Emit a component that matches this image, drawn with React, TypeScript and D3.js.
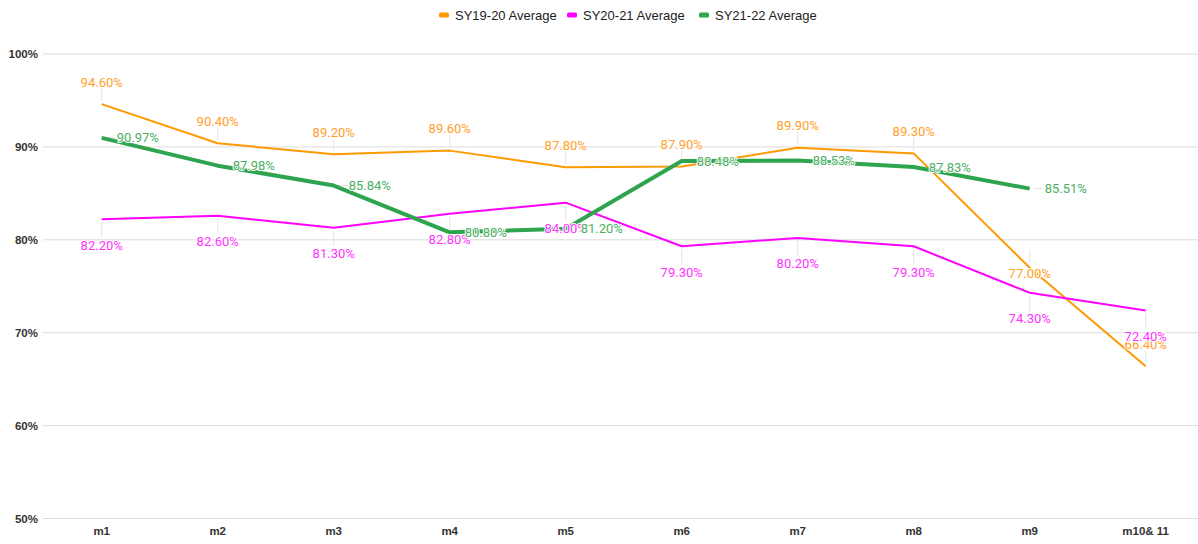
import React from "react";
import * as d3 from "d3";

const months = ["m1", "m2", "m3", "m4", "m5", "m6", "m7", "m8", "m9", "m10& 11"];
const sy1920 = [94.6, 90.4, 89.2, 89.6, 87.8, 87.9, 89.9, 89.3, 77.0, 66.4];
const sy2021 = [82.2, 82.6, 81.3, 82.8, 84.0, 79.3, 80.2, 79.3, 74.3, 72.4];
const sy2122 = [90.97, 87.98, 85.84, 80.8, 81.2, 88.48, 88.53, 87.83, 85.51];
const yTicks = [50, 60, 70, 80, 90, 100];

const W = 1198;
const H = 544;

const series = [
  { name: "SY19-20 Average", values: sy1920, color: "#ff9900", label: "#ffa02a", width: 2, pos: "above" },
  { name: "SY20-21 Average", values: sy2021, color: "#ff00ff", label: "#ff33ff", width: 2, pos: "below" },
  { name: "SY21-22 Average", values: sy2122, color: "#2ea44f", label: "#4caf62", width: 4, pos: "right" },
];

export default function App() {
  const x = d3.scaleBand<string>().domain(months).range([43.7, 1203.7]);
  const cx = (m: string) => (x(m) ?? 0) + x.bandwidth() / 2;
  const y = d3.scaleLinear().domain([50, 100]).range([518.5, 54]);

  const line = d3
    .line<number>()
    .x((_, i) => cx(months[i]))
    .y((d) => y(d));

  const fmt = (v: number) => v.toFixed(2) + "%";

  // where each label sits relative to its point
  const labelPos = (s: typeof series[number], i: number, v: number) => {
    const px = cx(months[i]);
    const py = y(v);
    if (s.pos === "right") return { lx: px + 15, ly: py, anchor: "start", lead: [px + 4, py, px + 14, py] };
    if (s.pos === "above") {
      if (i === 8) return { lx: px, ly: py + 6, anchor: "middle", lead: [px, py - 6, px, py - 18] };
      return { lx: px, ly: py - 22, anchor: "middle", lead: [px, py - 3, px, py - 16] };
    }
    return { lx: px, ly: py + 26, anchor: "middle", lead: [px, py + 3, px, py + 18] };
  };

  const legendX = [440, 568, 700];

  return (
    <div style={{ position: "absolute", left: 0, top: 0 }}>
      <svg width={W} height={H} style={{ display: "block", background: "#fff" }}>
        {/* legend */}
        {series.map((s, i) => (
          <g key={s.name} transform={`translate(${legendX[i]},15)`}>
            <rect x={-1} y={-2.5} width={10} height={5} rx={1.5} fill={s.color} />
            <text x={15} y={0} dy="0.35em" fontFamily="Arial, 'Liberation Sans'" fontSize={13} fill="#222">
              {s.name}
            </text>
          </g>
        ))}

        {/* grid + y labels */}
        {yTicks.map((t) => (
          <g key={t}>
            <line x1={43} x2={W} y1={y(t)} y2={y(t)} stroke="#dcdcdc" strokeWidth={1} />
            <text
              x={38}
              y={y(t)}
              dy="0.35em"
              textAnchor="end"
              fontFamily="Arial, 'Liberation Sans'"
              fontSize={11.5}
              fontWeight="bold"
              fill="#333"
            >
              {t}%
            </text>
          </g>
        ))}

        {/* x labels */}
        {months.map((m) => (
          <text
            key={m}
            x={cx(m)}
            y={531}
            dy="0.35em"
            textAnchor="middle"
            fontFamily="Arial, 'Liberation Sans'"
            fontSize={11.5}
            fontWeight="bold"
            fill="#333"
          >
            {m}
          </text>
        ))}

        {/* leader lines */}
        {series.map((s) =>
          s.values.map((v, i) => {
            const p = labelPos(s, i, v);
            return (
              <line
                key={s.name + "l" + i}
                x1={p.lead[0]}
                y1={p.lead[1]}
                x2={p.lead[2]}
                y2={p.lead[3]}
                stroke="#e4e4e4"
                strokeWidth={1}
              />
            );
          })
        )}

        {/* lines */}
        {series.map((s) => (
          <path
            key={s.name}
            d={line(s.values) ?? ""}
            fill="none"
            stroke={s.color}
            strokeWidth={s.width}
            strokeLinejoin="round"
          />
        ))}

        {/* data labels */}
        {series.map((s) =>
          s.values.map((v, i) => {
            const p = labelPos(s, i, v);
            return (
              <text
                key={s.name + "t" + i}
                x={p.lx}
                y={p.ly}
                dy="0.35em"
                textAnchor={p.anchor}
                fontFamily="Roboto, Arial"
                fontSize={13}
                fill={s.label}
                stroke="#fff"
                strokeWidth={2}
                paintOrder="stroke"
              >
                {fmt(v)}
              </text>
            );
          })
        )}
      </svg>
    </div>
  );
}
